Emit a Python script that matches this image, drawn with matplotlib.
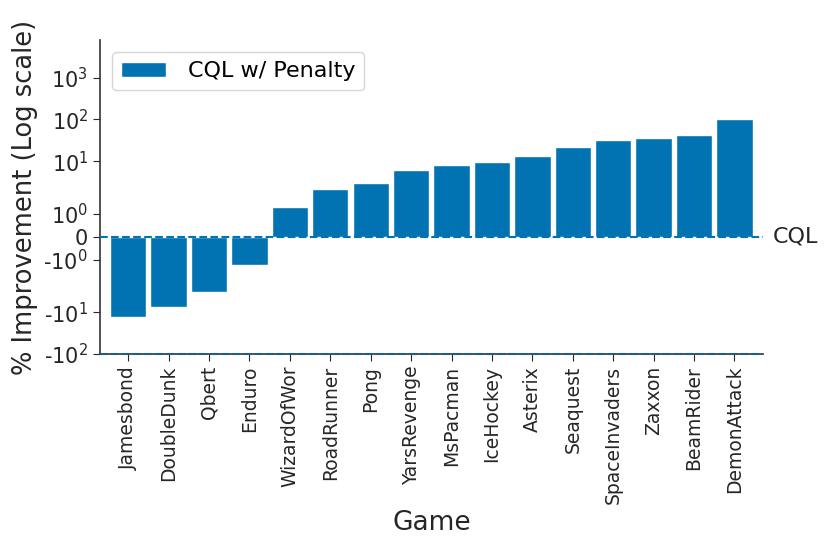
import matplotlib
matplotlib.use('Agg')
import matplotlib.pyplot as plt
from matplotlib.ticker import NullLocator

# Data (percent improvement over CQL)
games = ['Jamesbond', 'DoubleDunk', 'Qbert', 'Enduro', 'WizardOfWor', 'RoadRunner',
         'Pong', 'YarsRevenge', 'MsPacman', 'IceHockey', 'Asterix', 'Seaquest',
         'SpaceInvaders', 'Zaxxon', 'BeamRider', 'DemonAttack']
improvement = [-12.9, -7.6, -3.24, -1.22, 1.28, 2.19, 3.0, 6.26, 8.0, 9.75,
               13.5, 21.9, 32.8, 36.0, 43.3, 101.0]

ytick_values = [-100, -10, -1, 0, 1, 10, 100, 1000]
ytick_labels = [r'-$\mathdefault{10^{2}}$', r'-$\mathdefault{10^{1}}$', r'-$\mathdefault{10^{0}}$', '0',
                r'$\mathdefault{10^{0}}$', r'$\mathdefault{10^{1}}$', r'$\mathdefault{10^{2}}$',
                r'$\mathdefault{10^{3}}$']

blue = '#0173b2'

plt.rcParams['font.family'] = ['DejaVu Sans']

fig = plt.figure(figsize=(8.31, 5.46), dpi=100)
ax = fig.add_axes([0.1203, 0.3516, 0.7975, 0.5751])

x = list(range(len(games)))
ax.bar(x, improvement, width=0.9, color=blue, edgecolor='white', linewidth=1,
       label='CQL w/ Penalty', zorder=2)

ax.set_yscale('symlog', linthresh=2, linscale=1)
ax.set_ylim(-100, 8000)
ax.set_xlim(-0.7, 15.7)

# baseline (CQL) and bottom reference line
ax.axhline(0, color=blue, linestyle='--', linewidth=1.5, zorder=3)
ax.axhline(-100, color='#1d5f8a', linestyle='--', linewidth=1.5, zorder=3, clip_on=False)
ax.text(15.95, 0, 'CQL', fontsize=16, va='center', ha='left', color='#262626')

ax.set_yticks(ytick_values)
ax.set_yticklabels(ytick_labels)
ax.yaxis.set_minor_locator(NullLocator())
ax.set_xticks(x)
ax.set_xticklabels(games, rotation=90)

ax.tick_params(axis='y', labelsize=15, length=5, colors='#262626')
ax.tick_params(axis='x', labelsize=13.5, length=5, colors='#262626')

for s in ['top', 'right']:
    ax.spines[s].set_visible(False)
for s in ['left', 'bottom']:
    ax.spines[s].set_color('#333333')
    ax.spines[s].set_linewidth(1.2)

ax.set_xlabel('Game', fontsize=19, color='#262626')
ax.set_ylabel('% Improvement (Log scale)', fontsize=18.5, color='#262626')

ax.legend(loc='upper left', fontsize=16, handlelength=2.0, handletextpad=1.0,
          borderaxespad=0.55, edgecolor='#cccccc', fancybox=True)

plt.savefig('out.png', dpi=100)
